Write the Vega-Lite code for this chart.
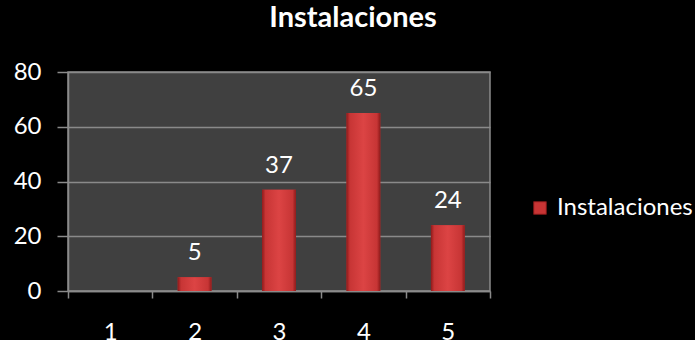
{
  "$schema": "https://vega.github.io/schema/vega-lite/v6.json",
  "autosize": {"type": "none"},
  "width": 422,
  "height": 219,
  "padding": {"left": 68, "top": 72, "right": 205, "bottom": 49},
  "background": "#000000",
  "config": {
    "font": "Lato",
    "view": {"fill": "#404040", "stroke": "#8a8a8a", "strokeWidth": 1.5}
  },
  "title": {
    "text": "Instalaciones",
    "font": "Lato",
    "fontSize": 29,
    "fontWeight": "bold",
    "color": "#ffffff",
    "anchor": "middle",
    "dx": 74,
    "baseline": "alphabetic",
    "offset": 4
  },
  "data": {
    "values": [
      {"x": "1", "v": null, "serie": "Instalaciones"},
      {"x": "2", "v": 5, "serie": "Instalaciones"},
      {"x": "3", "v": 37, "serie": "Instalaciones"},
      {"x": "4", "v": 65, "serie": "Instalaciones"},
      {"x": "5", "v": 24, "serie": "Instalaciones"}
    ]
  },
  "encoding": {
    "x": {
      "field": "x",
      "type": "ordinal",
      "title": null,
      "scale": {"domain": ["1", "2", "3", "4", "5"], "paddingInner": 0, "paddingOuter": 0},
      "axis": {
        "labelAngle": 0,
        "labelColor": "#ffffff",
        "labelFontSize": 24,
        "labelFont": "Lato",
        "labelPadding": 22,
        "tickBand": "extent",
        "tickSize": 7,
        "tickColor": "#8a8a8a",
        "domainColor": "#8a8a8a",
        "tickWidth": 1.5,
        "domainWidth": 1.5
      }
    },
    "y": {
      "field": "v",
      "type": "quantitative",
      "title": null,
      "scale": {"domain": [0, 80], "nice": false},
      "axis": {
        "values": [0, 20, 40, 60, 80],
        "labelColor": "#ffffff",
        "labelFontSize": 24,
        "labelFont": "Lato",
        "labelPadding": 16,
        "tickSize": 11,
        "tickColor": "#8a8a8a",
        "tickWidth": 1.5,
        "domainColor": "#8a8a8a",
        "domainWidth": 1.5,
        "gridColor": "#8a8a8a",
        "gridWidth": 1.5
      }
    }
  },
  "layer": [
    {
      "mark": {"type": "bar", "width": {"band": 0.4}},
      "encoding": {
        "color": {
          "field": "serie",
          "type": "nominal",
          "scale": {"range": ["#c83434"]},
          "legend": {
            "title": null,
            "orient": "none",
            "legendX": 460,
            "legendY": 124,
            "symbolType": "square",
            "symbolSize": 160,
            "symbolStrokeColor": "#7a1616",
            "symbolStrokeWidth": 1,
            "labelColor": "#ffffff",
            "labelFontSize": 24,
            "labelFont": "Lato",
            "labelOffset": 5
          }
        }
      }
    },
    {
      "mark": {
        "type": "bar",
        "width": {"band": 0.4},
        "fill": {
          "gradient": "linear",
          "x1": 0, "y1": 0, "x2": 1, "y2": 0,
          "stops": [
            {"offset": 0, "color": "#8e1a1a"},
            {"offset": 0.1, "color": "#c73535"},
            {"offset": 0.5, "color": "#dc4444"},
            {"offset": 0.9, "color": "#c73535"},
            {"offset": 1, "color": "#8e1a1a"}
          ]
        }
      }
    },
    {
      "transform": [{"filter": "datum.v != null"}],
      "mark": {
        "type": "text",
        "color": "#ffffff",
        "fontSize": 24,
        "font": "Lato",
        "baseline": "alphabetic",
        "dy": -17
      },
      "encoding": {"text": {"field": "v", "type": "quantitative"}}
    }
  ]
}
